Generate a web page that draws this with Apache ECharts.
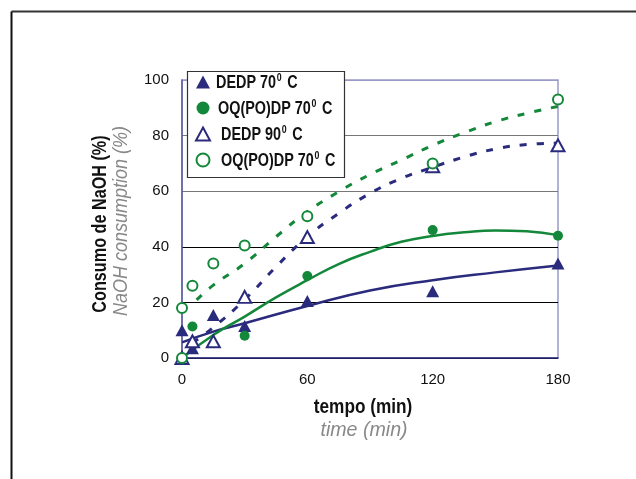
<!DOCTYPE html>
<html><head><meta charset="utf-8">
<script src="https://cdn.jsdelivr.net/npm/echarts@6/dist/echarts.min.js"></script>
<style>html,body{margin:0;padding:0;background:#fff}#c{width:636px;height:479px}</style>
</head><body><div id="c"></div>
<script>
// Tick labels
const xTicks = [0, 60, 120, 180];
const yTicks = [0, 20, 40, 60, 80, 100];
// Series labels
const seriesLabels = ['DEDP 70', 'OQ(PO)DP 70', 'DEDP 90', 'OQ(PO)DP 70'];
// Measured points [time (min), NaOH consumption (%)]
const dedp70 = [[0, 0], [0, 10], [5, 3.5], [15, 15.5], [30, 11.5], [60, 20.5], [120, 24], [180, 34]];
const oq70 = [[0, 0], [5, 11.3], [30, 8], [60, 29.5], [120, 46], [180, 44]];
const dedp90 = [[0, 0], [5, 6], [15, 6], [30, 22], [60, 43.5], [120, 69], [180, 76.5]];
const oq70b = [[0, 0], [0, 18], [5, 26], [15, 34], [30, 40.5], [60, 51], [120, 70], [180, 93]];
// Trend lines
const trendDedp70 = [[0, 5.6], [15, 9.5], [30, 12.5], [60, 18.7], [90, 24.3], [120, 28], [150, 30.8], [180, 33.3]];
const trendOq70 = [[0, 0], [15, 8.3], [30, 14.9], [45, 21.8], [60, 28], [75, 33.8], [90, 38.2], [105, 41.8], [120, 43.9], [135, 45.2], [150, 45.9], [165, 45.6], [180, 44.2]];
const trendDedp90 = [[5, 5.5], [15, 11], [30, 21], [45, 32.8], [60, 43.6], [75, 52], [90, 59.2], [105, 64.6], [120, 68.6], [135, 72.3], [150, 75.2], [165, 76.8], [180, 77.3]];
const trendOq70b = [[7, 20.9], [15, 26.2], [30, 34], [45, 43.6], [60, 52.6], [75, 59.8], [90, 66], [105, 71.2], [120, 76.5], [135, 81], [150, 85], [165, 88], [180, 90.5]];

const NAVY = '#2b2b7e';
const GREEN = '#14883a';
const FONT = '"Liberation Sans", Arial, sans-serif';
const names = ['s1', 's2', 's3', 's4'];

const chart = echarts.init(document.getElementById('c'), null, {renderer: 'canvas'});
const gridL = 182, gridT = 80, gridR = 558, gridB = 358;

// legend label texts (condensed real text)
const legendRowsY = [82, 108, 134, 160];
const legendTextX = [216, 218, 221, 221];
const legendTexts = seriesLabels.map(function (lab, i) {
  return {
    type: 'text', z: 20, x: legendTextX[i], y: legendRowsY[i], scaleX: 0.8,
    style: {
      text: '{t|' + lab + '}{s|0}{t| C}',
      textAlign: 'left', textVerticalAlign: 'middle',
      rich: {
        t: {font: 'bold 18px ' + FONT, fill: '#111', lineHeight: 20, verticalAlign: 'bottom'},
        s: {font: 'bold 11px ' + FONT, fill: '#111', lineHeight: 20, verticalAlign: 'top', padding: [0, 2, 0, 1]}
      }
    }
  };
});

chart.setOption({
  animation: false,
  backgroundColor: '#fff',
  grid: {left: gridL, top: gridT, width: gridR - gridL, height: gridB - gridT, show: true, borderColor: '#9a9ac8', borderWidth: 1.5, backgroundColor: 'transparent'},
  xAxis: {
    type: 'value', min: xTicks[0], max: xTicks[xTicks.length - 1], interval: 60,
    axisLine: {show: true, onZero: false, lineStyle: {color: NAVY, width: 1.5}},
    axisTick: {show: false},
    splitLine: {show: false},
    axisLabel: {color: '#111', fontFamily: FONT, fontSize: 15, margin: 14}
  },
  yAxis: {
    type: 'value', min: yTicks[0], max: yTicks[yTicks.length - 1], interval: 20,
    axisLine: {show: true, onZero: false, lineStyle: {color: '#5a5aa0', width: 1.5}},
    axisTick: {show: false},
    splitLine: {show: true, lineStyle: {color: ['#000', '#000', '#000', '#777', '#777', '#9a9ac8'], width: 1.2}},
    axisLabel: {color: '#111', fontFamily: FONT, fontSize: 15, margin: 13}
  },
  legend: {
    data: names,
    orient: 'vertical', left: 195, top: 72,
    itemWidth: 14, itemHeight: 13, itemGap: 6,
    padding: 0,
    textStyle: {fontSize: 18, lineHeight: 20, color: 'rgba(0,0,0,0)'},
    formatter: function () { return ' '; },
    z: 10
  },
  graphic: [
    {type: 'line', shape: {x1: 11.5, y1: 11.5, x2: 636, y2: 11.5}, style: {stroke: '#333', lineWidth: 2}},
    {type: 'line', shape: {x1: 11.5, y1: 11.5, x2: 11.5, y2: 479}, style: {stroke: '#111', lineWidth: 2}},
    {type: 'rect', z: 5, shape: {x: 187.5, y: 71.5, width: 157, height: 106}, style: {fill: '#fff', stroke: '#333', lineWidth: 1.2}},
    {type: 'text', x: 363, y: 407, scaleX: 0.86, style: {text: 'tempo (min)', font: 'bold 20px ' + FONT, fill: '#111', textAlign: 'center', textVerticalAlign: 'middle'}},
    {type: 'text', x: 364, y: 430, scaleX: 0.98, style: {text: 'time (min)', font: 'italic 20px ' + FONT, fill: '#888', textAlign: 'center', textVerticalAlign: 'middle'}},
    {type: 'text', x: 100, y: 224, rotation: Math.PI / 2, scaleX: 0.81, style: {text: 'Consumo de NaOH (%)', font: 'bold 20px ' + FONT, fill: '#111', textAlign: 'center', textVerticalAlign: 'middle'}},
    {type: 'text', x: 121, y: 221, rotation: Math.PI / 2, scaleX: 0.9, style: {text: 'NaOH consumption (%)', font: 'italic 20px ' + FONT, fill: '#888', textAlign: 'center', textVerticalAlign: 'middle'}}
  ].concat(legendTexts),
  series: [
    {type: 'line', data: trendDedp70, smooth: true, showSymbol: false, symbol: 'none', lineStyle: {color: NAVY, width: 2.5}, z: 2, silent: true},
    {type: 'line', data: trendOq70, smooth: true, showSymbol: false, symbol: 'none', lineStyle: {color: GREEN, width: 2.5}, z: 2, silent: true},
    {type: 'line', data: trendDedp90, smooth: true, showSymbol: false, symbol: 'none', lineStyle: {color: NAVY, width: 3, type: [7, 10]}, z: 2, silent: true},
    {type: 'line', data: trendOq70b, smooth: true, showSymbol: false, symbol: 'none', lineStyle: {color: GREEN, width: 3, type: [7, 10]}, z: 2, silent: true},
    {name: 's1', type: 'scatter', data: dedp70, symbol: 'triangle', symbolSize: [13, 12], itemStyle: {color: NAVY, opacity: 1}, z: 3},
    {name: 's2', type: 'scatter', data: oq70, symbol: 'circle', symbolSize: 10, itemStyle: {color: GREEN, opacity: 1}, z: 3},
    {name: 's3', type: 'scatter', data: dedp90, symbol: 'emptyTriangle', symbolSize: [13, 12], itemStyle: {color: NAVY, borderColor: NAVY, borderWidth: 1.5, opacity: 1}, z: 3},
    {name: 's4', type: 'scatter', data: oq70b, symbol: 'emptyCircle', symbolSize: 10, itemStyle: {color: GREEN, borderColor: GREEN, borderWidth: 1.5, opacity: 1}, z: 3}
  ]
});
</script></body></html>
